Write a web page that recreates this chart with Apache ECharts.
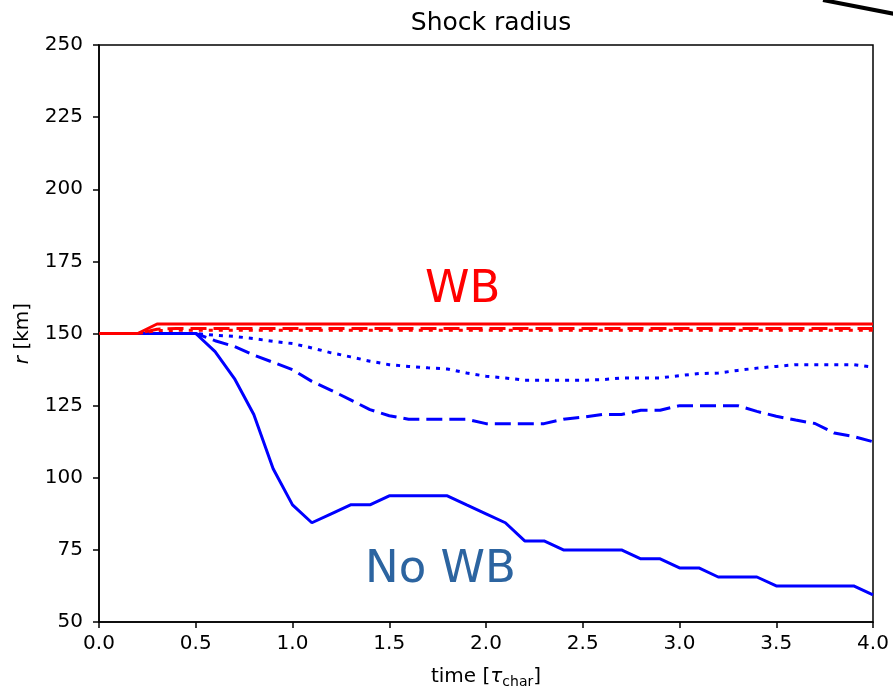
<!DOCTYPE html>
<html>
<head>
<meta charset="utf-8">
<script src="https://cdn.jsdelivr.net/npm/echarts@6/dist/echarts.min.js"></script>
<style>
  html, body { margin: 0; padding: 0; background: #fff; }
  #main { width: 893px; height: 690px; }
</style>
</head>
<body>
<div id="main"></div>
<script>
// time samples [tau_char]
var times = [0.0, 0.1, 0.2, 0.3, 0.4, 0.5, 0.6, 0.7, 0.8, 0.9,
             1.0, 1.1, 1.2, 1.3, 1.4, 1.5, 1.6, 1.7, 1.8, 1.9,
             2.0, 2.1, 2.2, 2.3, 2.4, 2.5, 2.6, 2.7, 2.8, 2.9,
             3.0, 3.1, 3.2, 3.3, 3.4, 3.5, 3.6, 3.7, 3.8, 3.9, 4.0];

// no WB (blue)
var noWbSolid = [150, 150, 150, 150, 150, 150, 143.75, 134.4, 121.9, 103.1,
                 90.6, 84.4, 87.5, 90.6, 90.6, 93.75, 93.75, 93.75, 93.75, 90.6,
                 87.5, 84.4, 78.1, 78.1, 75, 75, 75, 75, 71.9, 71.9,
                 68.75, 68.75, 65.6, 65.6, 65.6, 62.5, 62.5, 62.5, 62.5, 62.5, 59.4];
var noWbDashed = [150, 150, 150, 150, 150, 150, 147.5, 145.5, 142.5, 140.0,
                  137.5, 133.4, 130.3, 127.0, 123.6, 121.5, 120.3, 120.3, 120.3, 120.3,
                  118.75, 118.75, 118.75, 118.75, 120.3, 121.0, 121.9, 121.9, 123.4, 123.4,
                  125.0, 125.0, 125.0, 125.0, 123.0, 121.3, 120.0, 118.8, 115.5, 114.3, 112.5];
var noWbDotted = [150, 150, 150, 150, 150, 150, 149.4, 149.0, 148.2, 147.3,
                  146.5, 145.0, 143.3, 141.9, 140.4, 139.2, 138.6, 138.1, 137.7, 136.3,
                  135.2, 134.6, 133.8, 133.8, 133.8, 133.8, 134.0, 134.6, 134.6, 134.6,
                  135.4, 136.1, 136.3, 137.2, 138.0, 138.6, 139.2, 139.2, 139.2, 139.2, 138.4];

// WB (red)
var wbSolid = [150, 150, 150, 153.3, 153.3, 153.3, 153.3, 153.3, 153.3, 153.3,
               153.3, 153.3, 153.3, 153.3, 153.3, 153.3, 153.3, 153.3, 153.3, 153.3,
               153.3, 153.3, 153.3, 153.3, 153.3, 153.3, 153.3, 153.3, 153.3, 153.3,
               153.3, 153.3, 153.3, 153.3, 153.3, 153.3, 153.3, 153.3, 153.3, 153.3, 153.3];
var wbDashed = [150, 150, 150, 151.5, 151.7, 151.7, 151.7, 151.7, 151.7, 151.7,
                151.7, 151.7, 151.7, 151.7, 151.7, 151.7, 151.7, 151.7, 151.7, 151.7,
                151.7, 151.7, 151.7, 151.7, 151.7, 151.7, 151.7, 151.7, 151.7, 151.7,
                151.7, 151.7, 151.7, 151.7, 151.7, 151.7, 151.7, 151.7, 151.7, 151.7, 151.7];
var wbDotted = [150, 150, 150, 151.0, 151.1, 151.1, 151.1, 151.1, 151.1, 151.1,
                151.1, 151.1, 151.1, 151.1, 151.1, 151.1, 151.1, 151.1, 151.1, 151.1,
                151.1, 151.1, 151.1, 151.1, 151.1, 151.1, 151.1, 151.1, 151.1, 151.1,
                151.1, 151.1, 151.1, 151.1, 151.1, 151.1, 151.1, 151.1, 151.1, 151.1, 151.1];

var font = 'DejaVu Sans';

function pairs(ys) {
    var out = [];
    for (var i = 0; i < times.length; i++) {
        out.push([times[i], ys[i]]);
    }
    return out;
}

function line(name, ys, color, type) {
    return {
        name: name,
        type: 'line',
        data: pairs(ys),
        symbol: 'none',
        silent: true,
        animation: false,
        lineStyle: { color: color, width: 3, type: type, cap: 'butt' }
    };
}

var myChart = echarts.init(document.getElementById('main'));

var option = {
    backgroundColor: '#fff',
    animation: false,
    title: {
        text: 'Shock radius',
        left: 486,
        top: 6,
        textAlign: 'center',
        textStyle: { fontFamily: font, fontSize: 25, fontWeight: 'normal', color: '#000' }
    },
    grid: {
        left: 99, right: 20, top: 45, bottom: 68,
        outerBoundsMode: 'none',
        show: true, borderColor: '#000', borderWidth: 1.5
    },
    xAxis: {
        type: 'value',
        min: 0, max: 4, interval: 0.5,
        name: 'time [{t|τ}{s|char}]',
        nameLocation: 'middle',
        nameGap: 43,
        nameTextStyle: {
            fontFamily: font, fontSize: 20, color: '#000',
            rich: {
                t: { fontFamily: font, fontSize: 20, fontStyle: 'italic', color: '#000' },
                s: { fontFamily: font, fontSize: 14, color: '#000', verticalAlign: 'bottom', padding: [10, 0, 0, 0] }
            }
        },
        splitLine: { show: false },
        axisLine: { show: true, lineStyle: { color: '#000', width: 1.5 } },
        axisTick: { show: true, length: 6, lineStyle: { color: '#000', width: 1.5 } },
        axisLabel: {
            margin: 12, fontFamily: font, fontSize: 20, color: '#000',
            formatter: function (v) { return v.toFixed(1); }
        }
    },
    yAxis: {
        type: 'value',
        min: 50, max: 250, interval: 25,
        name: '{i|r} [km]',
        nameLocation: 'middle',
        nameRotate: 90,
        nameGap: 66,
        nameTextStyle: {
            fontFamily: font, fontSize: 20, color: '#000',
            rich: {
                i: { fontFamily: font, fontSize: 20, fontStyle: 'italic', color: '#000' }
            }
        },
        splitLine: { show: false },
        axisLine: { show: true, lineStyle: { color: '#000', width: 1.5 } },
        axisTick: { show: true, length: 6, lineStyle: { color: '#000', width: 1.5 } },
        axisLabel: { margin: 16, fontFamily: font, fontSize: 20, color: '#000' }
    },
    graphic: [
        {
            type: 'text', left: 425, top: 268, silent: true,
            style: { text: 'WB', fontFamily: font, fontSize: 45, fill: '#ff0000' }
        },
        {
            type: 'text', left: 365, top: 548, silent: true,
            style: { text: 'No WB', fontFamily: font, fontSize: 45, fill: '#2c64a0' }
        },
        {
            type: 'line', silent: true,
            shape: { x1: 823, y1: 0, x2: 895, y2: 14 },
            style: { stroke: '#000', lineWidth: 4 }
        }
    ],
    series: [
        line('noWbSolid', noWbSolid, '#0000ff', 'solid'),
        line('noWbDashed', noWbDashed, '#0000ff', [16, 7]),
        line('noWbDotted', noWbDotted, '#0000ff', [4, 6]),
        line('wbSolid', wbSolid, '#ff0000', 'solid'),
        line('wbDashed', wbDashed, '#ff0000', [16, 7]),
        line('wbDotted', wbDotted, '#ff0000', [4, 6])
    ]
};

if (option)
    myChart.setOption(option);
</script>
</body>
</html>
